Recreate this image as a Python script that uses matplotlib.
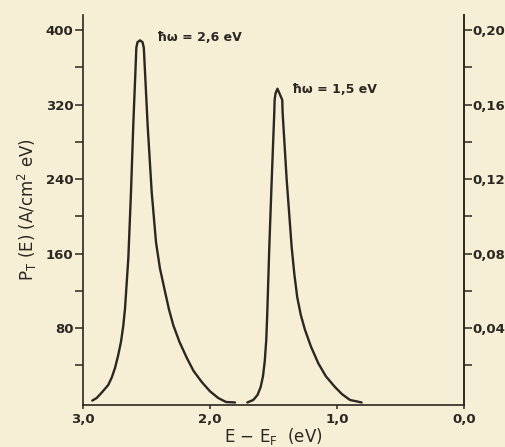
import matplotlib.pyplot as plt
from matplotlib.ticker import FixedLocator, FuncFormatter

# curve for hw = 2,6 eV (energy E-E_F in eV, P_T in A/cm^2 eV)
e_26 = [2.927, 2.892, 2.850, 2.801, 2.773, 2.748, 2.724, 2.701, 2.683,
        2.669, 2.643, 2.622, 2.604, 2.583, 2.580, 2.571, 2.551, 2.531,
        2.521, 2.517, 2.491, 2.459, 2.425, 2.394, 2.354, 2.323, 2.289,
        2.240, 2.183, 2.130, 2.065, 2.000, 1.935, 1.874, 1.803]
p_26 = [2, 4.8, 11, 18.8, 27, 37, 50, 65, 82,
        101, 155, 226, 298, 370, 381, 387, 389, 387,
        381, 370, 298, 226, 172, 144, 119, 100, 83,
        65, 48, 34, 22, 12, 4.8, 0.5, 0]

# curve for hw = 1,5 eV
e_15 = [1.706, 1.659, 1.626, 1.601, 1.583, 1.569, 1.557, 1.549, 1.533,
        1.514, 1.494, 1.491, 1.484, 1.469, 1.453, 1.431, 1.428, 1.396,
        1.357, 1.336, 1.313, 1.285, 1.252, 1.205, 1.147, 1.087, 1.016,
        0.961, 0.898, 0.806]
p_15 = [0, 2.7, 8, 16.6, 28, 44, 67, 96, 167,
        239, 311, 325, 332, 337, 332, 325, 311, 239,
        167, 138, 113, 94, 78, 60, 42, 28, 16.6,
        9, 2.7, 0]

x_ticks = [3.0, 2.0, 1.0, 0.0]
y_ticks = [80, 160, 240, 320, 400]
y_minor = [40, 120, 200, 280, 360]
right_ticks = [0.04, 0.08, 0.12, 0.16, 0.20]
right_minor = [0.02, 0.06, 0.10, 0.14, 0.18]

bg = '#f7efd5'
ink = '#2b2722'

fig = plt.figure(figsize=(5.06, 4.47), dpi=100, facecolor=bg)
ax = fig.add_axes([0.164, 0.094, 0.753, 0.872], facecolor=bg)

ax.plot(e_26, p_26, color=ink, lw=1.7, solid_capstyle='round', solid_joinstyle='round')
ax.plot(e_15, p_15, color=ink, lw=1.7, solid_capstyle='round', solid_joinstyle='round')

ax.set_xlim(3.0, 0.0)
ax.set_ylim(-2.7, 416)

comma = FuncFormatter(lambda v, pos: f'{v:.1f}'.replace('.', ','))
ax.xaxis.set_major_locator(FixedLocator(x_ticks))
ax.xaxis.set_major_formatter(comma)
ax.yaxis.set_major_locator(FixedLocator(y_ticks))
ax.yaxis.set_minor_locator(FixedLocator(y_minor))

for s in ['left', 'bottom', 'right']:
    ax.spines[s].set_color(ink)
    ax.spines[s].set_linewidth(1.2)
ax.spines['top'].set_visible(False)

ax.tick_params(axis='y', which='both', length=6, width=1.1, color=ink, pad=1,
               labelsize=9.5, labelcolor=ink)
ax.tick_params(axis='x', length=3, width=1.1, color=ink, pad=3,
               labelsize=9.5, labelcolor=ink)

ax2 = ax.twinx()
ax2.set_ylim(-2.7 * 0.0005, 416 * 0.0005)
ax2.yaxis.set_major_locator(FixedLocator(right_ticks))
ax2.yaxis.set_minor_locator(FixedLocator(right_minor))
ax2.yaxis.set_major_formatter(FuncFormatter(lambda v, pos: f'{v:.2f}'.replace('.', ',')))
ax2.spines['right'].set_color(ink)
ax2.spines['right'].set_linewidth(1.2)
for s in ['left', 'bottom', 'top']:
    ax2.spines[s].set_visible(False)
ax2.tick_params(axis='y', which='both', length=6, width=1.1, color=ink, pad=0,
                labelsize=9.5, labelcolor=ink)

for lab in ax.get_xticklabels() + ax.get_yticklabels() + ax2.get_yticklabels():
    lab.set_fontweight('bold')

ax.set_xlabel(r'E $-$ E$_\mathregular{F}$  (eV)', fontsize=12, color=ink, labelpad=0)
ax.set_ylabel(r'P$_\mathregular{T}$ (E) (A/cm$^\mathregular{2}$ eV)', fontsize=12,
              color=ink, labelpad=5)

ax.text(2.417, 392, 'ħω = 2,6 eV', fontsize=9, fontweight='bold', color=ink,
        va='center', ha='left')
ax.text(1.354, 336, 'ħω = 1,5 eV', fontsize=9, fontweight='bold', color=ink,
        va='center', ha='left')

fig.savefig('out.png', dpi=100, facecolor=bg)
